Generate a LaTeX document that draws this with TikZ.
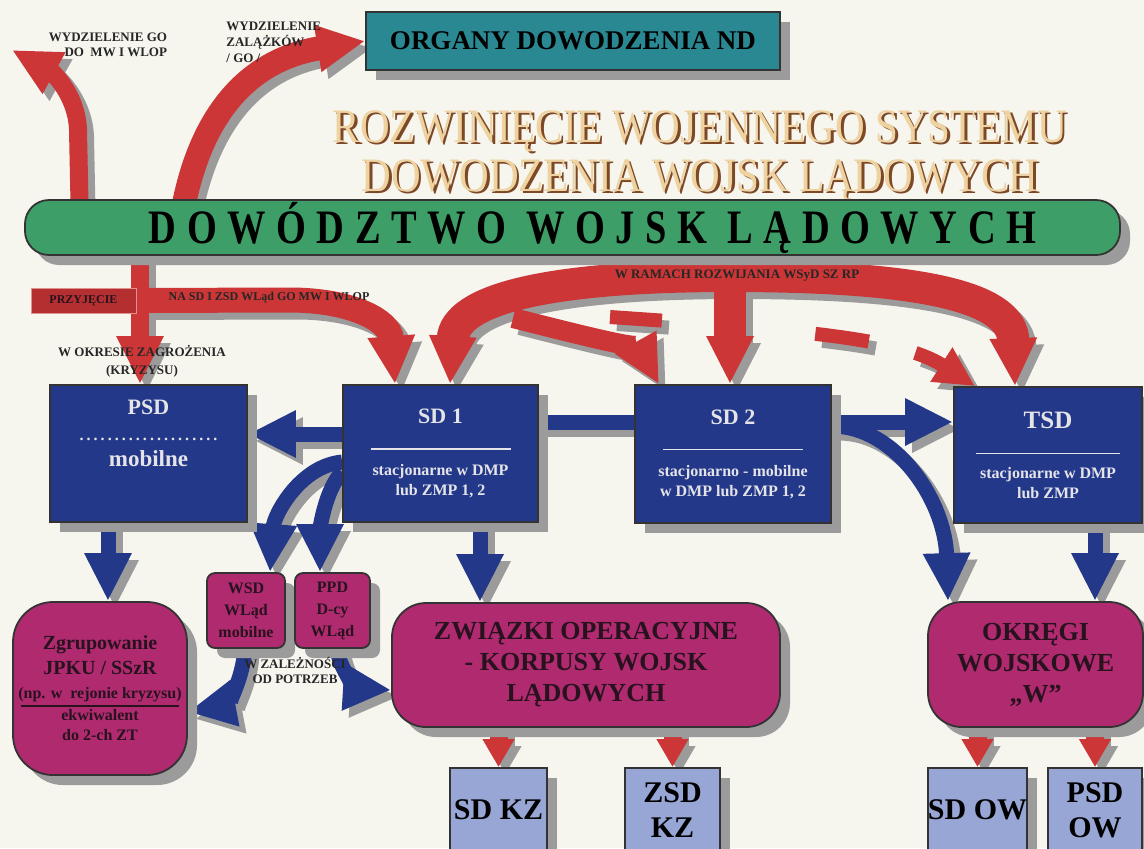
\documentclass[tikz,border=0pt]{standalone}
\usepackage{fontspec}
\setmainfont{Liberation Serif}
\newfontfamily\titlefont[FakeStretch=0.855]{Liberation Serif}
\newfontfamily\barfont[FakeStretch=0.8,LetterSpace=22]{Liberation Serif}
\usepackage{tikz}
\usetikzlibrary{arrows.meta}
\usetikzlibrary{shadows}

\definecolor{armyred}{RGB}{204,54,54}
\definecolor{navy}{RGB}{36,56,138}
\definecolor{plum}{RGB}{176,42,112}
\definecolor{sky}{RGB}{152,166,214}
\definecolor{ndteal}{RGB}{42,136,146}
\definecolor{leaf}{RGB}{62,158,104}
\definecolor{paper}{RGB}{246,245,238}
\definecolor{shade}{RGB}{155,155,155}
\definecolor{boxtext}{RGB}{228,228,232}
\definecolor{plumtext}{RGB}{40,18,30}
\definecolor{titlefill}{RGB}{238,210,160}
\definecolor{titleedge}{RGB}{125,72,38}

\pgfdeclarelayer{sheet}
\pgfdeclarelayer{back}
\pgfsetlayers{sheet,back,main}

\newcommand{\raised}[1]{\rlap{\kern1.3pt\raisebox{-1.3pt}{\color{titleedge}#1}}{\color{titlefill}#1}}

\tikzset{
  box/.style={draw=black!80, line width=0.9pt, align=center, inner sep=0pt,
    drop shadow={shadow xshift=5pt, shadow yshift=-5pt, fill=shade, opacity=1}},
  ndbox/.style={box, fill=ndteal, font=\bfseries\fontsize{13.5}{15}\selectfont},
  sdbox/.style={box, fill=navy, text=boxtext, font=\bfseries\fontsize{8}{10}\selectfont},
  plumbox/.style={box, fill=plum, text=plumtext, rounded corners=#1},
  skybox/.style={box, fill=sky, font=\bfseries\fontsize{15}{17.5}\selectfont},
  lbl/.style={font=\bfseries\fontsize{6.5}{7.5}\selectfont, inner sep=0pt, align=center, text=black!85},
  redpipe/.style={draw=armyred, line width=#1},
  bluepipe/.style={draw=navy, line width=7.5pt},
  bigtip/.style={-{Triangle[width=22pt,length=24pt]}},
  bluetip/.style={-{Triangle[width=22pt,length=24pt]}},
  smalltip/.style={-{Triangle[width=15pt,length=14pt]}},
}

% all connectors, used twice (shadow pass and colour pass)
\newcommand{\drawconnectors}{%
  % czerwone - z dowodztwa
  \draw[redpipe=9pt, bigtip] (80,0 |- dwl.center) -- (78,130) .. controls (77,95) and (52,72) .. (gotip);
  \draw[redpipe=12pt, bigtip] (180,0 |- dwl.center) .. controls (195,120) and (245,60) .. (organy.west);
  \draw[redpipe=9pt, bigtip] (140,0 |- dwl.center) -- (140,0 |- psd.north);
  \draw[redpipe=12.5pt, bigtip] (przy.east) -- (290,300) .. controls (350,300) and (390,320) .. (395,0 |- sda.north);
  \draw[redpipe=16pt, bigtip] (archtop) .. controls (545,276) and (455,300) .. (450,0 |- sda.north);
  \draw[redpipe=16pt, bigtip] (archtop) -- (730,0 |- sdb.north);
  \draw[redpipe=16pt, bigtip] (archtop) .. controls (935,276) and (1012,300) .. (1015,0 |- tsd.north);
  \draw[redpipe=10pt, bigtip] (ratail) .. controls (580,335) and (640,350) .. (659,0 |- sdb.north);
  \draw[redpipe=7pt, -{Triangle[width=19pt,length=20pt]}, dash pattern=on 26pt off 77pt on 27pt off 24pt on 60pt]
    (dashtail) .. controls (800,330) and (900,338) .. (975,0 |- tsd.north);
  % niebieskie
  \draw[bluepipe, bluetip] (sda.west |- 0,434) -- (psd.east |- 0,434);
  \draw[bluepipe] (sda.east |- 0,422) -- (sdb.west |- 0,422);
  \draw[bluepipe, bluetip] (sdb.east |- 0,422) -- (tsd.west |- 0,422);
  \draw[bluepipe, bluetip] (sdb.east |- 0,426) .. controls (895,426) and (945,500) .. (948,0 |- okr.north);
  \draw[bluepipe, bluetip] (1095,0 |- tsd.south) -- (1095,0 |- okr.north);
  \draw[bluepipe, bluetip] (108,0 |- psd.south) -- (108,0 |- zgr.north);
  \draw[bluepipe, bluetip] (480,0 |- sda.south) -- (480,0 |- zwi.north);
  \draw[bluepipe, bluetip] (sda.west |- 0,462) .. controls (300,466) and (274,515) .. (270,0 |- wsd.north);
  \draw[bluepipe, bluetip] (sda.west |- 0,472) .. controls (325,490) and (320,530) .. (320,0 |- ppd.north);
  \draw[bluepipe, bluetip] (245,0 |- wsd.south) .. controls (242,685) and (225,705) .. (zgr.east |- 0,712);
  \draw[bluepipe, bluetip] (337,0 |- ppd.south) .. controls (340,672) and (360,688) .. (zwi.west |- 0,690);
  % czerwone - w dol
  \draw[redpipe=9pt, smalltip] (sdkz.north |- zwi.south) -- (sdkz.north);
  \draw[redpipe=9pt, smalltip] (zsdkz.north |- zwi.south) -- (zsdkz.north);
  \draw[redpipe=9pt, smalltip] (sdow.north |- okr.south) -- (sdow.north);
  \draw[redpipe=9pt, smalltip] (psdow.north |- okr.south) -- (psdow.north);
}

\begin{document}
\begin{tikzpicture}[x=0.5pt, y=-0.5pt]
  \useasboundingbox (0,0) rectangle (1144,848);
  \begin{pgfonlayer}{sheet}
    \fill[paper] (0,0) rectangle (1144,848);
  \end{pgfonlayer}

  % naglowek
  \node[ndbox, minimum width=207pt, minimum height=29pt] (organy) at (573,41) {ORGANY DOWODZENIA ND};
  \node[font=\titlefont\fontsize{24}{24.5}\selectfont, inner sep=0pt, align=center] (tytul) at (700,157)
    {\raised{ROZWINIĘCIE WOJENNEGO SYSTEMU}\\ \raised{DOWODZENIA WOJSK LĄDOWYCH}};
  \node[box, fill=leaf, rounded corners=12pt, minimum width=547.5pt, minimum height=27.5pt,
        font=\barfont\bfseries\fontsize{24}{26}\selectfont] (dwl) at (572.5,227.5) {\hspace*{20pt}DOWÓDZTWO WOJSK LĄDOWYCH};

  % stanowiska dowodzenia
  \node[sdbox, minimum width=98.5pt, minimum height=68.5pt] (psd) at (148.5,453.5)
    {{\fontsize{11}{13}\selectfont PSD}\\[3pt] \makebox[72pt]{\dotfill}\\[3pt] {\fontsize{11.5}{13}\selectfont mobilne}\\[10pt] \mbox{}};
  \node[sdbox, minimum width=97.5pt, minimum height=68.5pt] (sda) at (440.5,453.5)
    {{\fontsize{11}{13}\selectfont SD 1}\\[3pt] \rule{70pt}{0.6pt}\\[3pt] stacjonarne w DMP\\ lub ZMP 1, 2};
  \node[sdbox, minimum width=98pt, minimum height=69pt] (sdb) at (733,454)
    {{\fontsize{11}{13}\selectfont SD 2}\\[3pt] \rule{70pt}{0.6pt}\\[3pt] stacjonarno - mobilne\\ w DMP lub ZMP 1, 2};
  \node[sdbox, minimum width=94pt, minimum height=68pt] (tsd) at (1048,455)
    {{\fontsize{12.5}{14}\selectfont TSD}\\[3pt] \rule{72pt}{0.6pt}\\[2pt] stacjonarne w DMP\\ lub ZMP};

  % jednostki
  \node[plumbox=4pt, minimum width=39pt, minimum height=37.5pt, font=\bfseries\fontsize{8}{11}\selectfont] (wsd) at (246,610.5) {WSD\\WLąd\\mobilne};
  \node[plumbox=4pt, minimum width=37.5pt, minimum height=37.5pt, font=\bfseries\fontsize{8}{11}\selectfont] (ppd) at (332.5,610.5) {PPD\\D-cy\\WLąd};
  \node[plumbox=20pt, minimum width=87pt, minimum height=86.5pt, font=\bfseries\fontsize{8}{10}\selectfont] (zgr) at (100,688.5)
    {{\fontsize{10}{12}\selectfont Zgrupowanie}\\[2.5pt] {\fontsize{10}{12}\selectfont JPKU / SSzR}\\[2pt] (np. w~~rejonie kryzysu)\\[-6pt] \rule{79pt}{0.7pt}\\[-3pt] ekwiwalent\\ do 2-ch ZT};
  \node[plumbox=17pt, minimum width=194pt, minimum height=62pt, font=\bfseries\fontsize{13}{15.5}\selectfont] (zwi) at (586,665)
    {ZWIĄZKI OPERACYJNE\\- KORPUSY WOJSK\\LĄDOWYCH};
  \node[plumbox=17pt, minimum width=107.5pt, minimum height=62.5pt, font=\bfseries\fontsize{13}{15.5}\selectfont] (okr) at (1035.5,664.5)
    {OKRĘGI\\WOJSKOWE\\„W”};
  \node[skybox, minimum width=48.5pt, minimum height=42pt] (sdkz) at (498.5,810) {SD KZ};
  \node[skybox, minimum width=47.5pt, minimum height=42pt] (zsdkz) at (672.5,810) {ZSD\\KZ};
  \node[skybox, minimum width=49.5pt, minimum height=42pt] (sdow) at (977.5,810) {SD OW};
  \node[skybox, minimum width=47pt, minimum height=42pt] (psdow) at (1095,810) {PSD\\OW};

  % opisy
  \node[fill=armyred!88!black, draw=armyred!55, minimum width=52.5pt, minimum height=12.5pt, inner sep=0pt,
        font=\bfseries\fontsize{6}{7}\selectfont, text=plumtext] (przy) at (83.5,300.5) {PRZYJĘCIE};
  \node[lbl, align=right] (golbl) at (108,45) {WYDZIELENIE GO\\DO~~MW I WLOP};
  \node[lbl, align=left, anchor=west, font=\bfseries\fontsize{6.5}{8}\selectfont] (zallbl) at (226,42) {WYDZIELENIE\\ZALĄŻKÓW\\/ GO /};
  \node[lbl, font=\bfseries\fontsize{6.5}{9}\selectfont] (krylbl) at (142,361) {W OKRESIE ZAGROŻENIA\\(KRYZYSU)};
  \node[lbl, font=\bfseries\fontsize{6}{7}\selectfont] (nasdlbl) at (269,298) {NA SD I ZSD WLąd GO MW I WLOP};
  \node[lbl] (ramlbl) at (737,276) {W RAMACH ROZWIJANIA WSyD SZ RP};
  \node[lbl] (potlbl) at (295,670) {W ZALEŻNOŚCI\\OD POTRZEB};

  \coordinate (gotip) at (12,50);
  \coordinate (archtop) at (730,276);
  \coordinate (ratail) at (513,318);
  \coordinate (dashtail) at (610,317);

  \begin{pgfonlayer}{back}
    \begin{scope}[transform canvas={shift={(3.5pt,-3.5pt)}}]
      \colorlet{armyred}{shade}\colorlet{navy}{shade}
      \drawconnectors
    \end{scope}
    \drawconnectors
  \end{pgfonlayer}
\end{tikzpicture}
\end{document}
